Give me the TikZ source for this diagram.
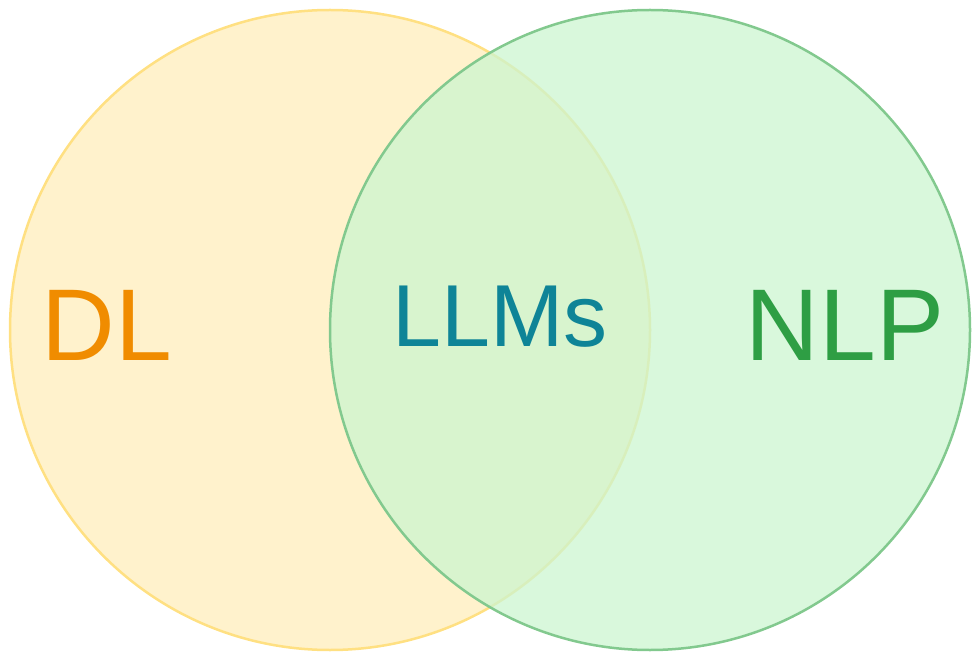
\documentclass[tikz,border=0pt]{standalone}
\usepackage{fontspec}
\setmainfont{Liberation Sans}
\definecolor{dlfill}{HTML}{FFF2CC}
\definecolor{dlline}{HTML}{FFE082}
\definecolor{nlpfill}{HTML}{CCF5D0}
\definecolor{nlpline}{HTML}{82C98E}
\definecolor{dltext}{HTML}{F08C00}
\definecolor{llmtext}{HTML}{0E8497}
\definecolor{nlptext}{HTML}{2E9E44}
\tikzset{
  lbl/.style={anchor=base, inner sep=0pt},
}
\begin{document}
\begin{tikzpicture}[x=1pt,y=-1pt]
\useasboundingbox (0,0) rectangle (980,660);
\node[circle, minimum size=640pt, inner sep=0pt, fill=dlfill, draw=dlline, line width=2.5pt] (dl) at (330,330) {};
\node[circle, minimum size=640pt, inner sep=0pt, fill=nlpfill, fill opacity=0.75, draw=nlpline, line width=2.5pt] (nlp) at (650,330) {};
\node[lbl, text=dltext, font=\fontsize{102}{102}\selectfont] (tdl) at (107,360) {DL};
\node[lbl, text=llmtext, font=\fontsize{88}{88}\selectfont] (tllm) at (500,346) {LLMs};
\node[lbl, text=nlptext, font=\fontsize{102}{102}\selectfont] (tnlp) at (845,360) {NLP};
\end{tikzpicture}
\end{document}
